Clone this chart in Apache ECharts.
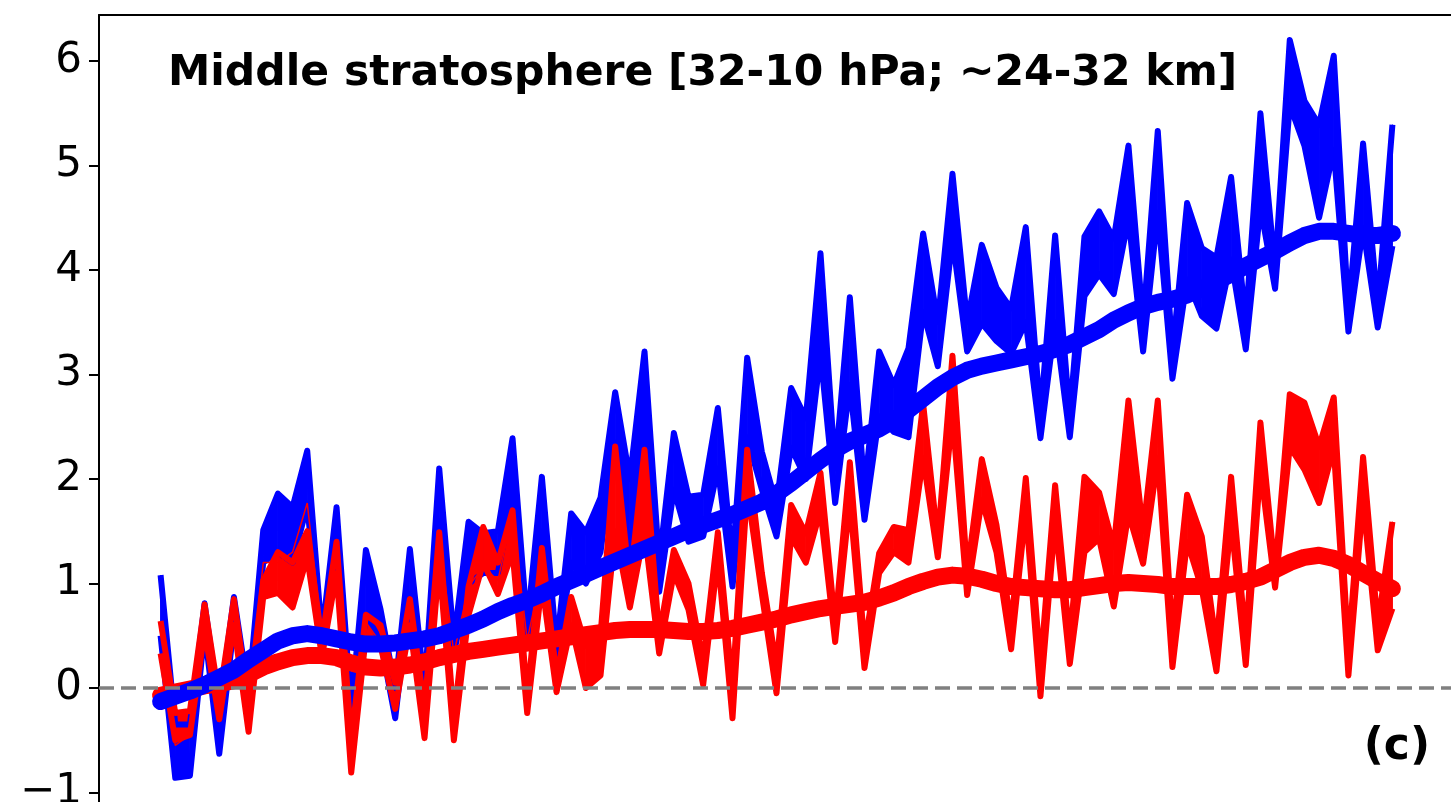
<!DOCTYPE html>
<html>
<head>
<meta charset="utf-8">
<script src="https://cdn.jsdelivr.net/npm/echarts@6/dist/echarts.min.js"></script>
<style>
  html, body { margin: 0; padding: 0; background: #fff; }
  #chart { width: 1451px; height: 802px; }
</style>
</head>
<body>
<div id="chart"></div>
<script>
// 蓝色锯齿带（上沿 / 下沿）
const blueHi = [1.08,-0.35,-0.35,0.81,-0.2,0.87,-0.05,1.51,1.86,1.73,
  2.27,0.5,1.73,-0.2,1.32,0.75,0.0,1.33,0.0,2.1,
  0.45,1.59,1.48,1.5,2.39,0.6,2.02,0.4,1.67,1.49,
  1.82,2.83,2.0,3.22,1.2,2.44,1.83,1.85,2.68,1.2,
  3.16,2.26,1.75,2.87,2.58,4.16,2.1,3.74,1.9,3.22,
  2.9,3.25,4.35,3.5,4.92,3.5,4.24,3.83,3.63,4.41,
  2.6,4.33,2.6,4.32,4.56,4.3,5.19,3.5,5.33,3.2,
  4.64,4.21,4.12,4.89,3.5,5.5,4.0,6.2,5.62,5.39,
  6.05,3.6,5.21,3.65,5.39];
const blueLo = [0.5,-0.86,-0.84,0.55,-0.63,0.6,-0.21,1.2,1.3,1.2,
  1.75,0.33,1.4,-0.43,0.7,0.45,-0.29,0.9,-0.28,1.6,
  0.33,1.0,1.1,1.1,1.85,0.46,1.5,0.25,1.2,1.0,
  1.3,2.35,1.25,2.4,0.92,1.9,1.4,1.45,2.1,0.97,
  2.4,1.9,1.45,2.3,2.0,3.2,1.77,2.9,1.61,2.6,
  2.45,2.4,3.6,3.08,4.3,3.22,3.49,3.32,3.2,3.5,
  2.39,3.5,2.4,3.75,3.96,3.77,4.49,3.22,4.55,2.96,
  3.91,3.56,3.44,4.1,3.24,4.6,3.82,5.58,5.19,4.5,
  5.15,3.41,4.4,3.45,4.23];

// 红色锯齿带（上沿 / 下沿）
const redHi = [0.64,-0.24,-0.22,0.8,-0.1,0.85,-0.15,1.03,1.3,1.2,
  1.5,0.45,1.4,-0.5,0.7,0.6,0.05,0.85,-0.2,1.49,
  -0.3,0.97,1.54,1.2,1.7,-0.1,1.34,0.1,0.87,0.4,
  0.5,2.31,1.0,2.28,0.5,1.32,1.0,0.25,1.49,0.0,
  2.28,1.1,0.2,1.75,1.48,2.06,0.6,2.16,0.4,1.29,
  1.54,1.51,2.72,1.4,3.18,1.1,2.19,1.56,0.6,2.01,
  0.2,1.94,0.45,2.02,1.87,1.35,2.75,1.5,2.75,0.5,
  1.85,1.45,0.4,2.02,0.45,2.54,1.1,2.81,2.73,2.31,
  2.78,0.35,2.21,0.6,1.59];
const redLo = [0.33,-0.5,-0.45,0.55,-0.3,0.6,-0.42,0.87,0.91,0.77,
  1.25,0.3,1.1,-0.81,0.5,0.4,-0.2,0.6,-0.48,1.2,
  -0.5,0.7,1.2,0.9,1.3,-0.24,1.0,-0.04,0.6,0.0,
  0.12,1.5,0.77,1.5,0.33,1.1,0.75,0.03,1.25,-0.29,
  1.9,0.9,-0.05,1.45,1.2,1.7,0.44,1.8,0.19,1.1,
  1.3,1.2,2.2,1.25,2.6,0.89,1.8,1.3,0.37,1.7,
  -0.08,1.6,0.23,1.3,1.43,0.78,1.67,1.19,2.2,0.2,
  1.4,0.95,0.16,1.6,0.22,2.1,0.96,2.31,2.09,1.77,
  2.3,0.12,1.8,0.36,0.76];

// 早期细红线
const redThin = [0.63,-0.55,-0.45,0.62,-0.29,0.63,-0.07,1.2,1.2,1.3,
  1.77,0.53,1.42,-0.34,0.63,0.43,0.03,0.82,-0.11,1.45,
  0.33,0.97,1.16,1.03,1.65,0.46,1.11,0.3];

// 平滑曲线
const blueSmooth = [-0.13,-0.08,-0.03,0.03,0.1,0.17,0.27,0.36,0.45,0.5,
  0.52,0.5,0.47,0.44,0.42,0.42,0.43,0.45,0.47,0.5,
  0.55,0.6,0.66,0.73,0.79,0.84,0.9,0.97,1.03,1.09,
  1.15,1.21,1.27,1.33,1.39,1.45,1.51,1.56,1.61,1.66,
  1.72,1.78,1.86,1.96,2.07,2.18,2.28,2.36,2.42,2.48,
  2.56,2.66,2.77,2.88,2.97,3.04,3.08,3.11,3.14,3.17,
  3.2,3.24,3.29,3.36,3.43,3.52,3.59,3.65,3.69,3.72,
  3.76,3.82,3.89,3.96,4.04,4.11,4.18,4.26,4.33,4.37,
  4.37,4.35,4.33,4.33,4.35];
const redSmooth = [-0.07,-0.04,-0.01,0.02,0.04,0.07,0.13,0.2,0.25,0.29,
  0.31,0.31,0.29,0.24,0.2,0.19,0.2,0.22,0.25,0.29,
  0.32,0.35,0.37,0.39,0.41,0.43,0.45,0.47,0.49,0.51,
  0.53,0.55,0.56,0.56,0.56,0.55,0.54,0.54,0.55,0.57,
  0.6,0.63,0.66,0.7,0.73,0.76,0.78,0.8,0.82,0.86,
  0.91,0.97,1.02,1.06,1.08,1.07,1.04,1.0,0.97,0.96,
  0.95,0.94,0.94,0.96,0.98,1.0,1.01,1.0,0.99,0.97,
  0.97,0.97,0.97,0.99,1.02,1.06,1.13,1.2,1.25,1.27,
  1.24,1.18,1.1,1.02,0.95];

const yTicks = [-1, 0, 1, 2, 3, 4, 5, 6];
const title = 'Middle stratosphere [32-10 hPa; ~24-32 km]';
const panel = '(c)';

const pairs = (arr) => arr.map((v, i) => [i, v]);

// 带状填充：每段画一个四边形（上沿 i→i+1，下沿 i+1→i）
const bandFill = (name, hi, lo, color) => ({
  name: name + 'Fill',
  type: 'custom',
  clip: true,
  data: hi.slice(0, -1).map((v, i) => [i, v, lo[i], hi[i + 1], lo[i + 1]]),
  renderItem: (params, api) => {
    const i = api.value(0);
    const pts = [
      api.coord([i, api.value(1)]),
      api.coord([i + 1, api.value(3)]),
      api.coord([i + 1, api.value(4)]),
      api.coord([i, api.value(2)])
    ];
    return {
      type: 'polygon',
      shape: { points: pts },
      style: { fill: color, stroke: color, lineWidth: 1 }
    };
  }
});

const edge = (name, arr, color) => ({
  name: name, type: 'line', data: pairs(arr), symbol: 'none',
  lineStyle: { color: color, width: 6, join: 'round' }
});

const myChart = echarts.init(document.getElementById('chart'));
myChart.setOption({
  animation: false,
  grid: { left: 99, top: 15, right: -3, bottom: -3, outerBoundsMode: 'none', containLabel: false },
  xAxis: {
    type: 'value', min: -4.2, max: 88.2, position: 'top',
    axisLine: { show: true, onZero: false, lineStyle: { color: '#000', width: 2 } },
    axisTick: { show: false }, axisLabel: { show: false }, splitLine: { show: false }
  },
  yAxis: {
    type: 'value', min: -1.12, max: 6.44,
    axisLine: { show: true, onZero: false, lineStyle: { color: '#000', width: 2 } },
    axisTick: { show: true, length: 10, customValues: yTicks, lineStyle: { color: '#000', width: 2 } },
    axisLabel: {
      customValues: yTicks, fontSize: 42, color: '#000', fontFamily: 'DejaVu Sans', margin: 17,
      formatter: (v) => String(v).replace('-', '\u2212')
    },
    splitLine: { show: false }
  },
  graphic: [
    { type: 'text', x: 168, y: 74, z: 100, style: { text: title, font: 'bold 42.5px "DejaVu Sans"', fill: '#000', verticalAlign: 'middle' } },
    { type: 'text', x: 1430, y: 748, z: 100, style: { text: panel, font: 'bold 44px "DejaVu Sans"', fill: '#000', align: 'right', verticalAlign: 'middle' } }
  ],
  series: [
    bandFill('blue', blueHi, blueLo, '#0000ff'),
    edge('blueHi', blueHi, '#0000ff'),
    edge('blueLo', blueLo, '#0000ff'),
    bandFill('red', redHi, redLo, '#ff0000'),
    edge('redHi', redHi, '#ff0000'),
    edge('redLo', redLo, '#ff0000'),
    {
      name: 'redThin', type: 'line', data: pairs(redThin), symbol: 'none',
      lineStyle: { color: '#ff0000', width: 1.5 }
    },
    {
      name: 'redSmooth', type: 'line', data: pairs(redSmooth), symbol: 'none',
      lineStyle: { color: '#ff0000', width: 17, cap: 'round', join: 'round' }
    },
    {
      name: 'blueSmooth', type: 'line', data: pairs(blueSmooth), symbol: 'none',
      lineStyle: { color: '#0000ff', width: 17, cap: 'round', join: 'round' },
      markLine: {
        silent: true, symbol: ['none', 'none'], label: { show: false },
        lineStyle: { color: '#808080', width: 3.5, type: [15, 7] },
        data: [{ yAxis: 0 }]
      }
    }
  ]
});
</script>
</body>
</html>
